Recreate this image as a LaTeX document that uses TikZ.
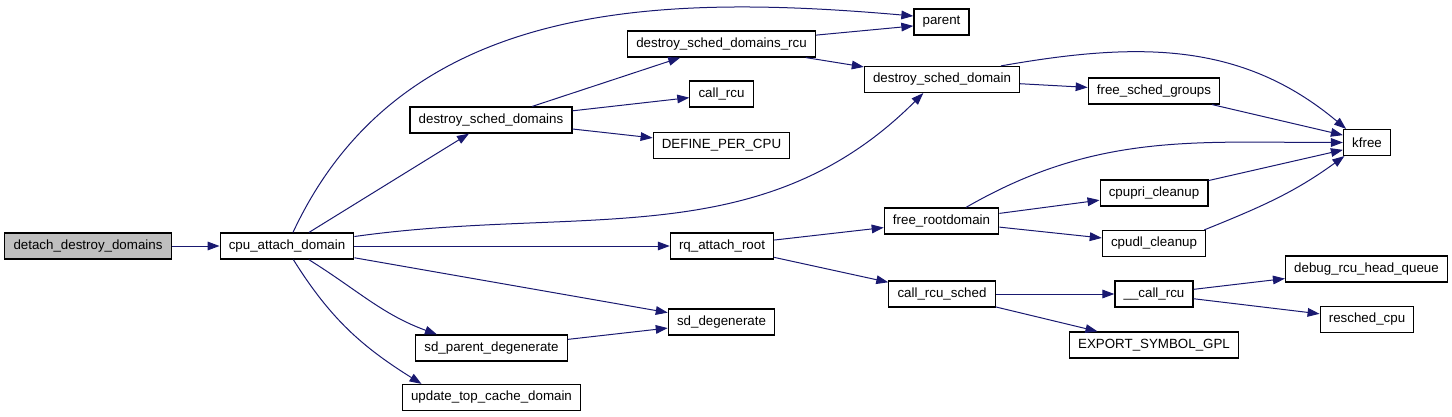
\documentclass[tikz,border=0pt]{standalone}
\usepackage{fontspec}
\setmainfont{Liberation Sans}
\usepackage{xcolor}
\usetikzlibrary{arrows.meta}
\definecolor{edgeblue}{HTML}{191970}
\tikzstyle{arrow} = [edgeblue, line width=0.75pt, -{Triangle[length=9pt,width=6.5pt]}]
\tikzstyle{block} = [rectangle, draw=black, fill=white, line width=0.9pt, inner xsep=6.5pt, inner ysep=0pt,
                     minimum height=19.5pt, font=\fontsize{10}{12}\selectfont]

\begin{document}
\begin{tikzpicture}[x=0.75pt, y=-0.75pt]
    \useasboundingbox (0,0) rectangle (1452,417);

    \node (detach)    at (88, 246)     [block, fill=gray!50] {detach\_destroy\_domains};
    \node (cpuattach) at (287, 246)    [block] {cpu\_attach\_domain};
    \node (dsds)      at (491, 120)    [block] {destroy\_sched\_domains};
    \node (dsdrcu)    at (721.5, 44)   [block] {destroy\_sched\_domains\_rcu};
    \node (parent)    at (941.5, 22)   [block] {parent};
    \node (callrcu)   at (721.5, 94)   [block] {call\_rcu};
    \node (perc)      at (721.5, 145.5)[block] {DEFINE\_PER\_CPU};
    \node (dsd)       at (942, 79.5)   [block] {destroy\_sched\_domain};
    \node (fsg)       at (1154, 91)    [block] {free\_sched\_groups};
    \node (kfree)     at (1367, 142.5) [block] {kfree};
    \node (rqattach)  at (722, 246)    [block] {rq\_attach\_root};
    \node (frd)       at (941.5, 221)  [block] {free\_rootdomain};
    \node (cpupri)    at (1154, 193)   [block] {cpupri\_cleanup};
    \node (cpudl)     at (1154, 243.5) [block] {cpudl\_cleanup};
    \node (rcusched)  at (942, 294)    [block] {call\_rcu\_sched};
    \node (ucallrcu)  at (1154, 294)   [block] {\_\_call\_rcu};
    \node (debugq)    at (1366.5, 269) [block] {debug\_rcu\_head\_queue};
    \node (resched)   at (1367, 319.5) [block] {resched\_cpu};
    \node (exportgpl) at (1154, 345)   [block] {EXPORT\_SYMBOL\_GPL};
    \node (sddeg)     at (721.5, 322)  [block] {sd\_degenerate};
    \node (sdpdeg)    at (491.5, 348)  [block] {sd\_parent\_degenerate};
    \node (topcache)  at (491.5, 397.5)[block] {update\_top\_cache\_domain};

    % straight calls
    \draw [arrow] (detach)    -- (cpuattach);
    \draw [arrow] (cpuattach) -- (dsds);
    \draw [arrow] (cpuattach) -- (rqattach);
    \draw [arrow] (cpuattach) -- (sddeg);
    \draw [arrow] (dsds)      -- (dsdrcu);
    \draw [arrow] (dsds)      -- (callrcu);
    \draw [arrow] (dsds)      -- (perc);
    \draw [arrow] (dsdrcu)    -- (parent.188);
    \draw [arrow] (dsdrcu)    -- (dsd);
    \draw [arrow] (dsd)       -- (fsg);
    \draw [arrow] (fsg)       -- (kfree.163);
    \draw [arrow] (rqattach)  -- (frd);
    \draw [arrow] (rqattach)  -- (rcusched);
    \draw [arrow] (frd)       -- (cpupri);
    \draw [arrow] (frd)       -- (cpudl);
    \draw [arrow] (cpupri)    -- (kfree.197);
    \draw [arrow] (rcusched)  -- (ucallrcu);
    \draw [arrow] (rcusched)  -- (exportgpl);
    \draw [arrow] (ucallrcu)  -- (debugq);
    \draw [arrow] (ucallrcu)  -- (resched);
    \draw [arrow] (sdpdeg)    -- (sddeg);

    % curved calls
    \draw [arrow] ([xshift=4.5pt]cpuattach.north) to[out=65, in=175] (parent.168);
    \draw [arrow] (cpuattach.8)   to[out=8, in=225]   (dsd.216);
    \draw [arrow] (cpuattach.328) to[out=-32, in=160] (sdpdeg.166);
    \draw [arrow] (cpuattach.295) to[out=-58, in=148] (topcache.169);
    \draw [arrow] (dsd.13)        to[out=10, in=140]  (kfree.147);
    \draw [arrow] (frd.29)        to[out=30, in=180]  (kfree.west);
    \draw [arrow] ([xshift=-1.5pt]cpudl.north east) to[out=22, in=216] (kfree.211);
\end{tikzpicture}
\end{document}
